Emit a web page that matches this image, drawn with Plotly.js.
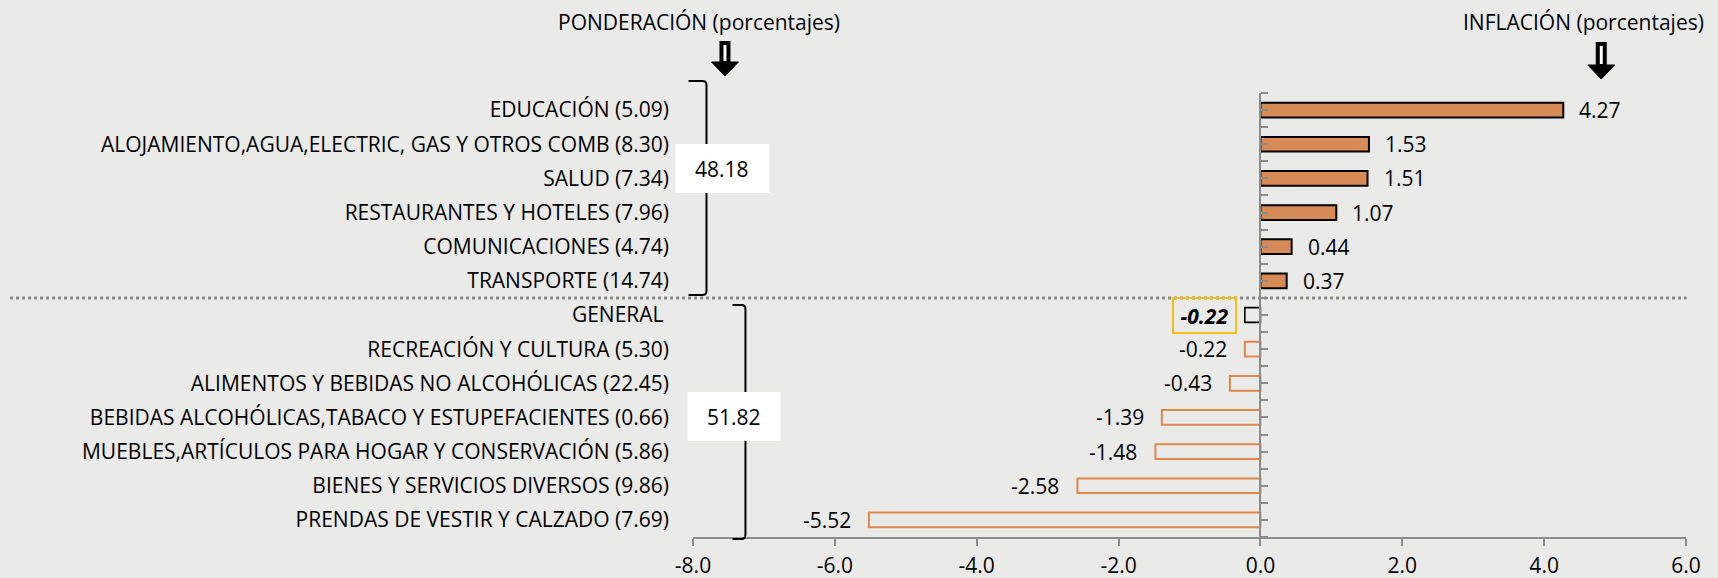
<!DOCTYPE html>
<html>
<head>
<meta charset="utf-8">
<script src="https://cdn.plot.ly/plotly-3.0.1.min.js"></script>
<style>
html,body{margin:0;padding:0;background:#eaeae8;}
#chart{width:1718px;height:578px;}
</style>
</head>
<body>
<div id="chart"></div>
<script>
// ---- data ----
const upperNames = ["EDUCACIÓN", "ALOJAMIENTO,AGUA,ELECTRIC, GAS Y OTROS COMB", "SALUD", "RESTAURANTES Y HOTELES", "COMUNICACIONES", "TRANSPORTE"];
const upperWeights = [5.09, 8.30, 7.34, 7.96, 4.74, 14.74];
const upperInflation = [4.27, 1.53, 1.51, 1.07, 0.44, 0.37];

const generalName = "GENERAL";
const generalInflation = -0.22;

const lowerNames = ["RECREACIÓN Y CULTURA", "ALIMENTOS Y BEBIDAS NO ALCOHÓLICAS", "BEBIDAS ALCOHÓLICAS,TABACO Y ESTUPEFACIENTES", "MUEBLES,ARTÍCULOS PARA HOGAR Y CONSERVACIÓN", "BIENES Y SERVICIOS DIVERSOS", "PRENDAS DE VESTIR Y CALZADO"];
const lowerWeights = [5.30, 22.45, 0.66, 5.86, 9.86, 7.69];
const lowerInflation = [-0.22, -0.43, -1.39, -1.48, -2.58, -5.52];

const groupTotals = [48.18, 51.82];
const xTickValues = [-8, -6, -4, -2, 0, 2, 4, 6];

// ---- build ----
const lab = (n, w) => n + " (" + w.toFixed(2) + ")";
const upperCats = upperNames.map((n, i) => lab(n, upperWeights[i]));
const lowerCats = lowerNames.map((n, i) => lab(n, lowerWeights[i]));
const generalCat = generalName + "\u00a0";
const allCats = upperCats.concat([generalCat], lowerCats);
const xMin = xTickValues[0], xMax = xTickValues[xTickValues.length - 1];

const FONT = "'Open Sans', Lato, sans-serif";
const FS = 21;

const W = 1718, H = 578;
const L = 692.5, R = 31.7, T = 93, B = 41;
const PW = W - L - R, PH = H - T - B;
const px = x => (x - L) / PW;
const py = y => 1 - (y - T) / PH;
const P = (x, y) => px(x).toFixed(5) + "," + py(y).toFixed(5);

const traces = [
  {type: "bar", orientation: "h", y: upperCats, x: upperInflation,
   marker: {color: "#d68b57", line: {color: "#000000", width: 2}},
   hoverinfo: "x+y", width: 0.43},
  {type: "bar", orientation: "h", y: [generalCat], x: [generalInflation],
   marker: {color: "rgba(0,0,0,0)", line: {color: "#000000", width: 1.6}},
   hoverinfo: "x+y", width: 0.43},
  {type: "bar", orientation: "h", y: lowerCats, x: lowerInflation,
   marker: {color: "rgba(0,0,0,0)", line: {color: "#e0874c", width: 2}},
   hoverinfo: "x+y", width: 0.43},
  {type: "scatter", x: [0], y: [0], yaxis: "y2", mode: "markers",
   marker: {opacity: 0}, hoverinfo: "skip", showlegend: false}
];

const annotations = [];
function valueLabel(cat, v) {
  annotations.push({
    x: v, y: cat, xref: "x", yref: "y", text: v.toFixed(2), showarrow: false,
    xanchor: v >= 0 ? "left" : "right", xshift: v >= 0 ? 14 : -16,
    font: {family: FONT, size: FS, color: "#000"}
  });
}
upperCats.forEach((c, i) => valueLabel(c, upperInflation[i]));
lowerCats.forEach((c, i) => valueLabel(c, lowerInflation[i]));
annotations.push({
  x: generalInflation, y: generalCat, xref: "x", yref: "y",
  text: "<b><i>" + generalInflation.toFixed(2) + "</i></b>", showarrow: false,
  xanchor: "right", xshift: -8, width: 61, height: 33, borderpad: 0,
  bordercolor: "#f7bd14", borderwidth: 2,
  font: {family: FONT, size: FS, color: "#000"}
});
// headers
annotations.push({x: px(699), y: py(22), xref: "paper", yref: "paper", text: "PONDERACIÓN (porcentajes)",
  showarrow: false, xanchor: "center", yanchor: "middle", font: {family: FONT, size: FS, color: "#000"}});
annotations.push({x: px(1584), y: py(22), xref: "paper", yref: "paper", text: "INFLACIÓN (porcentajes)",
  showarrow: false, xanchor: "center", yanchor: "middle", font: {family: FONT, size: FS, color: "#000"}});
// group totals
annotations.push({x: px(722), y: py(168.5), xref: "paper", yref: "paper", text: groupTotals[0].toFixed(2),
  showarrow: false, xanchor: "center", yanchor: "middle", font: {family: FONT, size: FS, color: "#000"}});
annotations.push({x: px(733.5), y: py(416.5), xref: "paper", yref: "paper", text: groupTotals[1].toFixed(2),
  showarrow: false, xanchor: "center", yanchor: "middle", font: {family: FONT, size: FS, color: "#000"}});

function arrow(cx, top, headTop, bottom) {
  return [
    {type: "rect", xref: "paper", yref: "paper", x0: px(cx - 3.5), x1: px(cx + 3.5), y0: py(top), y1: py(headTop + 1),
     line: {color: "#000", width: 4}, fillcolor: "#fff", layer: "above"},
    {type: "path", xref: "paper", yref: "paper",
     path: "M" + P(cx - 13.5, headTop) + " L" + P(cx + 13.5, headTop) + " L" + P(cx, bottom) + " Z",
     line: {color: "#000", width: 1}, fillcolor: "#000", layer: "above"}
  ];
}
function bracket(x0, x1, y0, y1) {
  const r = 4;
  return {type: "path", xref: "paper", yref: "paper",
    path: "M" + P(x0, y0) + " L" + P(x1 - r, y0) + " Q" + P(x1, y0) + " " + P(x1, y0 + r) +
          " L" + P(x1, y1 - r) + " Q" + P(x1, y1) + " " + P(x1 - r, y1) + " L" + P(x0, y1),
    line: {color: "#000", width: 2}, layer: "above"};
}

const shapes = [
  {type: "line", xref: "paper", yref: "y", x0: px(9), x1: px(1687), y0: upperCats.length - 0.5, y1: upperCats.length - 0.5,
   line: {color: "#8a8a8a", width: 3, dash: "dot"}, layer: "above"},
  bracket(688, 706, 81, 295),
  bracket(732, 745, 305, 539),
  {type: "rect", xref: "paper", yref: "paper", x0: px(675), x1: px(769), y0: py(144), y1: py(193),
   fillcolor: "#ffffff", line: {width: 0}, layer: "above"},
  {type: "rect", xref: "paper", yref: "paper", x0: px(687), x1: px(780), y0: py(392), y1: py(441),
   fillcolor: "#ffffff", line: {width: 0}, layer: "above"}
].concat(arrow(724.5, 43, 62, 76), arrow(1601.5, 44, 65, 79));

const nCats = allCats.length;
const layout = {
  width: W, height: H,
  margin: {l: L, r: R, t: T, b: B, pad: 0},
  paper_bgcolor: "#eaeae8", plot_bgcolor: "rgba(0,0,0,0)",
  showlegend: false, barmode: "overlay",
  font: {family: FONT, size: FS, color: "#000"},
  xaxis: {range: [xMin, xMax], tickmode: "array", tickvals: xTickValues,
    ticktext: xTickValues.map(v => v.toFixed(1)),
    showline: true, linecolor: "#8c8c8c", linewidth: 2, ticks: "outside", ticklen: 7, tickwidth: 2,
    tickcolor: "#8c8c8c", showgrid: false, zeroline: false, ticklabelstandoff: 2,
    tickfont: {family: FONT, size: FS, color: "#000"}, fixedrange: true},
  yaxis: {type: "category", categoryorder: "array", categoryarray: allCats,
    range: [nCats - 0.5, -0.5], showline: false, ticks: "", showgrid: false, zeroline: false,
    ticklabelstandoff: 23, tickfont: {family: FONT, size: FS, color: "#000"}, fixedrange: true},
  yaxis2: {overlaying: "y", anchor: "free", position: (0 - xMin) / (xMax - xMin),
    side: "right", range: [nCats - 0.5, -0.5], tickmode: "linear", tick0: -0.5, dtick: 0.5,
    showticklabels: false, ticks: "outside", ticklen: 7, tickwidth: 2, tickcolor: "#8c8c8c",
    showline: true, linecolor: "#8c8c8c", linewidth: 2, showgrid: false, zeroline: false, fixedrange: true},
  annotations: annotations,
  shapes: shapes
};

Plotly.newPlot("chart", traces, layout, {displayModeBar: false, staticPlot: true});
</script>
</body>
</html>
